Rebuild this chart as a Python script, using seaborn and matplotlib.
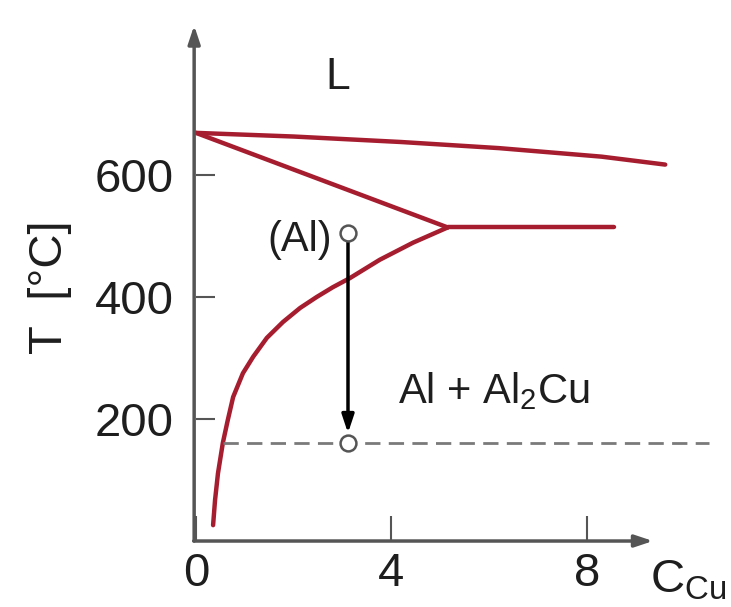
import matplotlib
matplotlib.use("Agg")
import matplotlib.pyplot as plt
import pandas as pd
import seaborn as sns

RED = "#a51d2f"
AXIS = "#555555"
INK = "#1e1e1e"

# phase boundaries (C_Cu in wt%, T in degC)
liquidus_x = [0.0, 2.0, 4.2, 6.2, 8.3, 9.6]
liquidus_t = [669, 663, 654, 644, 630, 617]
solidus_x = [0.0, 5.15]
solidus_t = [669, 514]
eutectic_x = [5.15, 8.55]
eutectic_t = [514, 514]
solvus_x = [5.15, 4.44, 3.76, 3.15, 2.80, 2.47, 2.13, 1.78, 1.45, 1.17,
            0.96, 0.76, 0.65, 0.55, 0.45, 0.39, 0.35]
solvus_t = [514, 489, 461, 431, 416, 400, 382, 359, 333, 302,
            275, 236, 198, 161, 111, 67, 26]

# quench path of the alloy
alloy_x = [3.11, 3.11]
alloy_t = [505, 161]
aging_x = [0.55, 10.5]
aging_t = [161, 161]

x_ticks = [0, 4, 8]
y_ticks = [200, 400, 600]

sns.set_theme(style="white")
plt.rcParams["font.family"] = ["Liberation Sans", "DejaVu Sans"]
plt.rcParams["mathtext.fontset"] = "custom"
plt.rcParams["mathtext.rm"] = "Liberation Sans"

fig = plt.figure(figsize=(7.31, 6.07), dpi=100)
ax = fig.add_axes([0.2681, 0.1087, 0.6252, 0.8493])
ax.set_xlim(0, 9.35)
ax.set_ylim(0, 845)

for xs, ts in [(liquidus_x, liquidus_t), (solidus_x, solidus_t),
               (eutectic_x, eutectic_t), (solvus_x, solvus_t)]:
    df = pd.DataFrame({"x": xs, "T": ts})
    sns.lineplot(data=df, x="x", y="T", ax=ax, sort=False, estimator=None,
                 color=RED, lw=3.2, solid_capstyle="round",
                 solid_joinstyle="round", clip_on=False)

ax.plot(aging_x, aging_t, color="#7a7a7a", lw=2, dashes=(5.5, 3), clip_on=False)

ax.annotate("", xy=(alloy_x[1], alloy_t[1]), xytext=(alloy_x[0], alloy_t[0]),
            arrowprops=dict(arrowstyle="-|>,head_length=0.9,head_width=0.3",
                            color="black", lw=2.5, shrinkA=6, shrinkB=7))
sns.scatterplot(x=alloy_x, y=alloy_t, ax=ax, s=130, color="white",
                edgecolor="#555555", linewidth=1.8, zorder=5)

# axes drawn as arrows
for s in ax.spines.values():
    s.set_visible(False)
ax.annotate("", xy=(1.0, 0), xytext=(-0.005, 0), xycoords="axes fraction",
            arrowprops=dict(arrowstyle="-|>,head_length=0.9,head_width=0.3",
                            color=AXIS, lw=2.5, shrinkA=0, shrinkB=0))
ax.annotate("", xy=(-0.004, 1.0), xytext=(-0.004, 0), xycoords="axes fraction",
            arrowprops=dict(arrowstyle="-|>,head_length=0.9,head_width=0.3",
                            color=AXIS, lw=2.5, shrinkA=0, shrinkB=0))

ax.set_xticks(x_ticks)
ax.set_yticks(y_ticks)
ax.tick_params(axis="x", direction="in", length=18, width=1.5, color=AXIS,
               labelsize=34, labelcolor=INK, pad=8, bottom=True)
ax.tick_params(axis="y", direction="in", length=14, width=1.5, color=AXIS,
               labelsize=34, labelcolor=INK, pad=16, left=True)
ax.set_xlabel("")
ax.set_ylabel("")
ax.grid(False)

ax.text(2.9, 760, "L", fontsize=32, color=INK, ha="center", va="center")
ax.text(2.78, 493, "(Al)", fontsize=30, color=INK, ha="right", va="center")
ax.text(4.13, 226, "Al + Al$_2$Cu", fontsize=30, color=INK, ha="left",
        va="baseline")
ax.text(9.28, -84, "C$_{\\mathrm{Cu}}$", fontsize=34, color=INK, ha="left",
        va="baseline", clip_on=False)
fig.text(50 / 731, 1 - 287 / 607, "T  [°C]", fontsize=34, color=INK,
         rotation=90, ha="center", va="center")

fig.savefig("out.png", dpi=100)
